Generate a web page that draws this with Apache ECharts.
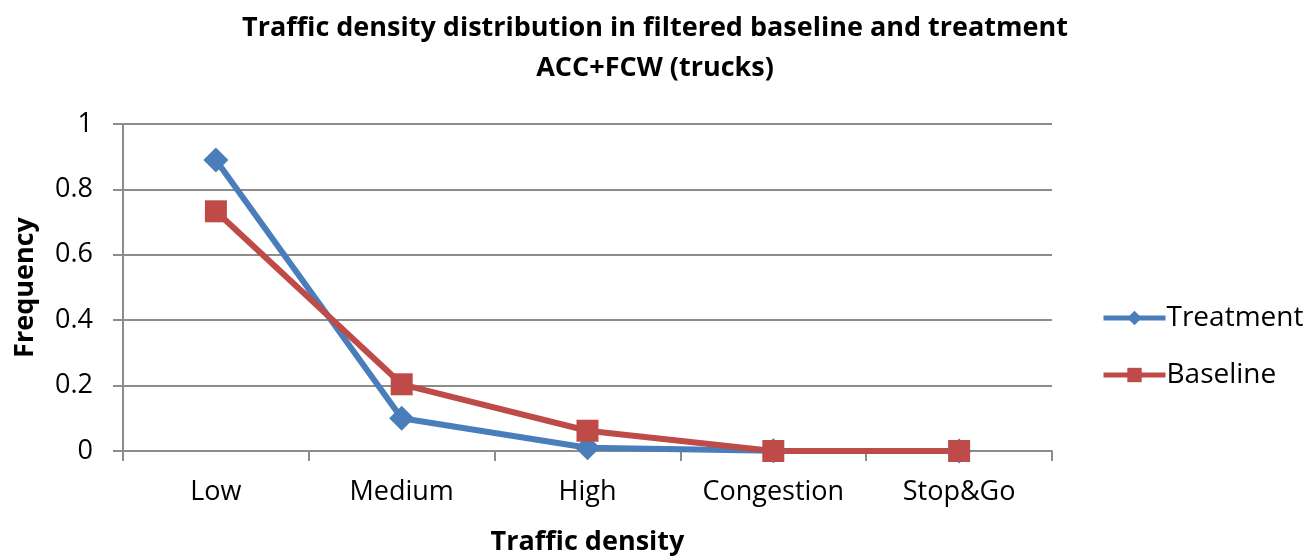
<!DOCTYPE html>
<html>
<head>
<meta charset="utf-8">
<script src="https://cdn.jsdelivr.net/npm/echarts@6/dist/echarts.min.js"></script>
<style>
  html, body { margin: 0; padding: 0; background: #fff; }
  #chart { width: 1308px; height: 558px; }
</style>
</head>
<body>
<div id="chart"></div>
<script>
const categories = ["Low", "Medium", "High", "Congestion", "Stop&Go"];
const treatment = [0.89, 0.10, 0.01, 0.001, 0];
const baseline = [0.733, 0.204, 0.062, 0, 0];
const yTicks = [0, 0.2, 0.4, 0.6, 0.8, 1];

const font = "'Open Sans', sans-serif";
const myChart = echarts.init(document.getElementById("chart"));

const option = {
  animation: false,
  title: {
    text: "Traffic density distribution in filtered baseline and treatment\nACC+FCW (trucks)",
    left: 650,
    textAlign: "center",
    top: 3,
    textStyle: {
      fontFamily: font,
      fontSize: 27,
      fontWeight: "bold",
      color: "#000",
      lineHeight: 40
    }
  },
  legend: {
    orient: "vertical",
    left: 1096,
    top: 299,
    itemWidth: 62,
    itemHeight: 18,
    itemGap: 29,
    lineStyle: { width: 5 },
    textStyle: { fontFamily: font, fontSize: 28, color: "#000", padding: [0, 0, 0, -4] },
    data: ["Treatment", "Baseline"]
  },
  grid: {
    left: 123,
    top: 124,
    width: 929,
    height: 327,
    outerBoundsMode: "none"
  },
  xAxis: {
    type: "category",
    data: categories,
    boundaryGap: true,
    name: "Traffic density",
    nameLocation: "middle",
    nameGap: 78,
    nameTextStyle: { fontFamily: font, fontSize: 27, fontWeight: "bold", color: "#000" },
    axisLine: { lineStyle: { color: "#8c8c8c", width: 2 } },
    axisTick: { show: true, length: 10, interval: 0, lineStyle: { color: "#8c8c8c", width: 2 } },
    axisLabel: { fontFamily: font, fontSize: 27, color: "#000", margin: 28 }
  },
  yAxis: {
    type: "value",
    min: yTicks[0],
    max: yTicks[yTicks.length - 1],
    interval: 0.2,
    name: "Frequency",
    nameLocation: "middle",
    nameGap: 84,
    nameTextStyle: { fontFamily: font, fontSize: 27, fontWeight: "bold", color: "#000" },
    axisLine: { show: true, lineStyle: { color: "#8c8c8c", width: 2 } },
    axisTick: { show: true, length: 10, lineStyle: { color: "#8c8c8c", width: 2 } },
    axisLabel: {
      fontFamily: font, fontSize: 27, color: "#000", margin: 30,
      formatter: v => String(Math.round(v * 10) / 10)
    },
    splitLine: { lineStyle: { color: "#8c8c8c", width: 2 } }
  },
  series: [
    {
      name: "Treatment",
      type: "line",
      data: treatment,
      symbol: "diamond",
      symbolSize: 25,
      lineStyle: { color: "#4a7ebb", width: 6 },
      itemStyle: { color: "#4a7ebb" }
    },
    {
      name: "Baseline",
      type: "line",
      data: baseline,
      symbol: "rect",
      symbolSize: 22,
      lineStyle: { color: "#be4b48", width: 6 },
      itemStyle: { color: "#be4b48" }
    }
  ]
};

myChart.setOption(option);
</script>
</body>
</html>
